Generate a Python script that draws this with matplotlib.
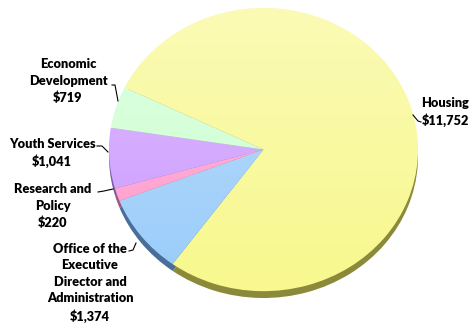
import matplotlib
matplotlib.use("Agg")
import matplotlib.pyplot as plt
import numpy as np
from matplotlib.patches import Ellipse

categories = ["Housing", "Office of the\nExecutive\nDirector and\nAdministration",
              "Research and\nPolicy", "Youth Services", "Economic\nDevelopment"]
values = [11752, 1374, 220, 1041, 719]
value_labels = ["$11,752", "$1,374", "$220", "$1,041", "$719"]
top_colors = ["#F8F88E", "#99CCFA", "#FF99CC", "#CC99FF", "#CCFFD0"]
side_colors = ["#8A8A3A", "#4A6E9A", "#A05A80", "#7A5AA0", "#7AA07A"]

W, H = 471, 328
fig = plt.figure(figsize=(W / 100, H / 100), dpi=100)

# main pixel-coordinate axes for labels
ax = fig.add_axes([0, 0, 1, 1])
ax.set_xlim(0, W)
ax.set_ylim(H, 0)
ax.axis("off")

# pie axes
cx, cy, rx, ry = 263.5, 153, 154.5, 145
depth = 7
pax = fig.add_axes([(cx - rx) / W, (H - (cy + ry)) / H, 2 * rx / W, 2 * ry / H])
pax.set_zorder(0)
ax.set_zorder(1)
ax.patch.set_visible(False)

pax.pie(values, colors=side_colors, startangle=154, counterclock=False,
        center=(0, -depth / ry), radius=1, wedgeprops=dict(linewidth=0))
wedges, _ = pax.pie(values, colors=top_colors, startangle=154, counterclock=False,
                    center=(0, 0), radius=1, wedgeprops=dict(linewidth=0))
pax.set_aspect("auto")

# subtle light gradient on the top face
grad = np.linspace(1, 0, 256).reshape(-1, 1)
rgba = np.ones((256, 1, 4))
rgba[..., 3] = 0.35 * grad
im = pax.imshow(rgba, extent=(-1, 1, -1, 1), aspect="auto", zorder=5)
clip = Ellipse((0, 0), 2, 2, transform=pax.transData)
im.set_clip_path(clip)
pax.set_xlim(-1, 1)
pax.set_ylim(-1 - depth / ry, 1)
pax.axis("off")

fs = 9.2
font = dict(family=["Lato", "DejaVu Sans"], fontweight="heavy", fontsize=fs,
            ha="center", va="center", linespacing=1.45)

# label positions (text centre) and leader lines in pixels
ax.text(445, 112, categories[0] + "\n" + value_labels[0], **font)
ax.plot([413, 418, 421], [115, 121, 122], color="black", lw=0.8)

ax.text(90, 283, categories[1] + "\n" + value_labels[1], **font)
ax.plot([129, 133, 136], [251, 250, 243], color="black", lw=0.8)

ax.text(53, 206, categories[2] + "\n" + value_labels[2], **font)
ax.plot([98, 104, 113], [192, 191, 189], color="black", lw=0.8)

ax.text(52, 153, categories[3] + "\n" + value_labels[3], **font)
ax.plot([97, 102, 108], [146, 146, 152], color="black", lw=0.8)

ax.text(68, 81, categories[4] + "\n" + value_labels[4], **font)
ax.plot([112, 115, 118], [85, 85, 101], color="black", lw=0.8)

fig.savefig("out.png", dpi=100, facecolor="white")
